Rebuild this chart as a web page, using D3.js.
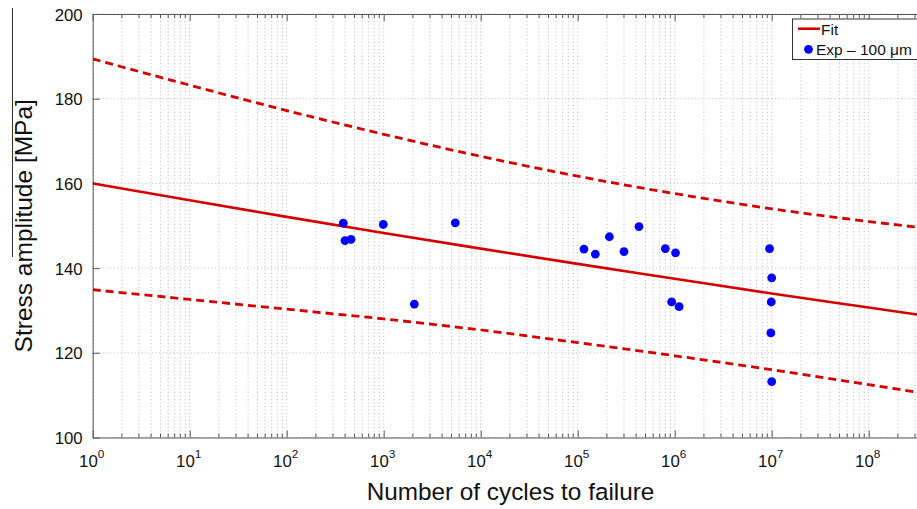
<!DOCTYPE html>
<html>
<head>
<meta charset="utf-8">
<script src="https://cdn.jsdelivr.net/npm/d3@7/dist/d3.min.js"></script>
<style>
  html, body { margin: 0; padding: 0; background: #fff; }
  svg { display: block; font-family: "Liberation Sans", Arial, Helvetica, sans-serif; }
</style>
</head>
<body>
<svg id="chart" width="917" height="509"></svg>
<script>
// S-N data: cycles to failure vs stress amplitude (MPa)
const expCycles = [383, 399, 460, 990, 2070, 5470, 116000, 152000, 212000, 300000,
                   428000, 800000, 1020000, 930000, 1110000, 9500000, 10000000, 9900000, 9800000, 10000000];
const expStress = [150.6, 146.5, 146.8, 150.3, 131.5, 150.7, 144.5, 143.3, 147.4, 143.9,
                   149.8, 144.6, 143.6, 132.0, 130.9, 144.6, 137.7, 132.0, 124.7, 113.2];

// Fitted curve and scatter band, sampled at each decade
const decadeCycles = [1, 1e1, 1e2, 1e3, 1e4, 1e5, 1e6, 1e7, 1e8, 1e9];
const fitStress    = [160.0, 156.0, 152.1, 148.3, 144.6, 141.0, 137.5, 134.0, 130.7, 127.4];
const upperStress  = [189.4, 183.2, 177.2, 171.6, 166.4, 161.7, 157.6, 154.0, 151.0, 148.4];
const lowerStress  = [134.9, 132.6, 130.3, 128.0, 125.4, 122.4, 119.3, 116.0, 112.5, 108.9];

const yTicks = [100, 120, 140, 160, 180, 200];
const xMajor = [0, 1, 2, 3, 4, 5, 6, 7, 8, 9];
const xLabelled = [0, 1, 2, 3, 4, 5, 6, 7, 8];

const legendLabels = ["Fit", "Exp \u2013 100 \u03bcm"];

const svg = d3.select("#chart");
const L = 92.7, T = 14, B = 437.5, R = 965.7;

const x = d3.scaleLog().domain([1, 1e9]).range([L, R]);
const y = d3.scaleLinear().domain([100, 200]).range([B, T]);

svg.append("defs").append("clipPath").attr("id", "plotClip")
  .append("rect").attr("x", L).attr("y", T).attr("width", R - L).attr("height", B - T);

// minor x positions (2..9 in each decade)
const xMinor = [];
for (let e = 0; e < 9; e++) for (let m = 2; m <= 9; m++) xMinor.push(m * Math.pow(10, e));

const grid = svg.append("g").attr("stroke", "#b5b5b5").attr("stroke-width", 0.9)
  .attr("stroke-dasharray", "1,2.5");
grid.selectAll("line.vx").data(xMinor.concat(xMajor.map(e => Math.pow(10, e))))
  .join("line").attr("class", "vx")
  .attr("x1", d => x(d)).attr("x2", d => x(d)).attr("y1", T).attr("y2", B);
grid.selectAll("line.hy").data(yTicks)
  .join("line").attr("class", "hy")
  .attr("x1", L).attr("x2", R).attr("y1", d => y(d)).attr("y2", d => y(d));

// axis frame and ticks
const axisCol = "#555";
const bottomAxis = d3.axisBottom(x).tickValues(xMajor.map(e => Math.pow(10, e)))
  .tickSizeInner(-7).tickSizeOuter(0).tickFormat("");
const gb = svg.append("g").attr("transform", `translate(0,${B})`).call(bottomAxis);
const topAxis = d3.axisTop(x).tickValues(xMajor.map(e => Math.pow(10, e)))
  .tickSizeInner(-7).tickSizeOuter(0).tickFormat("");
const gt = svg.append("g").attr("transform", `translate(0,${T})`).call(topAxis);
[gb, gt].forEach(g => {
  g.select(".domain").attr("stroke", axisCol).attr("stroke-width", 1);
  g.selectAll(".tick line").attr("stroke", axisCol);
});
gb.selectAll("line.minor").data(xMinor).join("line").attr("class", "minor")
  .attr("x1", d => x(d)).attr("x2", d => x(d)).attr("y1", 0).attr("y2", -4).attr("stroke", axisCol);
gt.selectAll("line.minor").data(xMinor).join("line").attr("class", "minor")
  .attr("x1", d => x(d)).attr("x2", d => x(d)).attr("y1", 0).attr("y2", 4).attr("stroke", axisCol);

const leftAxis = d3.axisLeft(y).tickValues(yTicks).tickSizeInner(-7).tickSizeOuter(0)
  .tickPadding(10);
const gl = svg.append("g").attr("transform", `translate(${L},0)`).call(leftAxis);
gl.select(".domain").attr("stroke", axisCol);
gl.selectAll(".tick line").attr("stroke", axisCol);
gl.selectAll(".tick text").attr("font-size", 16.8).attr("fill", "#111")
  .attr("font-family", "Liberation Sans, Arial, sans-serif").attr("dy", "0.36em");

// x tick labels as powers of ten
const xl = svg.append("g").attr("font-size", 16.8).attr("fill", "#111");
xl.selectAll("text").data(xLabelled).join("text")
  .attr("x", d => x(Math.pow(10, d)) - 1)
  .attr("y", 467)
  .attr("text-anchor", "middle")
  .each(function(d) {
    const t = d3.select(this);
    t.append("tspan").text("10");
    t.append("tspan").attr("dy", -9).attr("font-size", 11.8).text(d);
  });

// axis titles
svg.append("text").attr("x", 510.5).attr("y", 500)
  .attr("text-anchor", "middle").attr("font-size", 24.3).attr("fill", "#111")
  .text("Number of cycles to failure");
svg.append("text")
  .attr("transform", `translate(32,${(T + B) / 2}) rotate(-90)`)
  .attr("text-anchor", "middle").attr("font-size", 24.5).attr("fill", "#111")
  .text("Stress amplitude [MPa]");
svg.append("line").attr("x1", 12.5).attr("x2", 12.5).attr("y1", 8).attr("y2", 257)
  .attr("stroke", "#333").attr("stroke-width", 1);

// curves
const red = "#d40000";
const plot = svg.append("g").attr("clip-path", "url(#plotClip)");
const line = d3.line().x(d => x(d[0])).y(d => y(d[1])).curve(d3.curveMonotoneX);
const zip = arr => decadeCycles.map((c, i) => [c, arr[i]]);

plot.append("path").attr("d", line(zip(upperStress))).attr("fill", "none")
  .attr("stroke", red).attr("stroke-width", 2.8).attr("stroke-dasharray", "8,5");
plot.append("path").attr("d", line(zip(lowerStress))).attr("fill", "none")
  .attr("stroke", red).attr("stroke-width", 2.8).attr("stroke-dasharray", "8,5");
plot.append("path").attr("d", line(zip(fitStress))).attr("fill", "none")
  .attr("stroke", red).attr("stroke-width", 2.6);

// experimental points
plot.selectAll("circle").data(expCycles.map((c, i) => [c, expStress[i]]))
  .join("circle").attr("cx", d => x(d[0])).attr("cy", d => y(d[1])).attr("r", 4.4)
  .attr("fill", "#0000ff");

// legend
const lg = svg.append("g");
lg.append("rect").attr("x", 792.5).attr("y", 19).attr("width", 160).attr("height", 40.5)
  .attr("fill", "#fff").attr("stroke", "#333").attr("stroke-width", 1);
lg.append("line").attr("x1", 798).attr("x2", 820).attr("y1", 28.7).attr("y2", 28.7)
  .attr("stroke", red).attr("stroke-width", 2.6);
lg.append("circle").attr("cx", 808.5).attr("cy", 49.3).attr("r", 4.4).attr("fill", "#0000ff");
lg.selectAll("text").data(legendLabels).join("text")
  .attr("x", (d, i) => i === 0 ? 821 : 816)
  .attr("y", (d, i) => i === 0 ? 34.5 : 55)
  .attr("font-size", 15.5).attr("fill", "#111").text(d => d);
</script>
</body>
</html>
